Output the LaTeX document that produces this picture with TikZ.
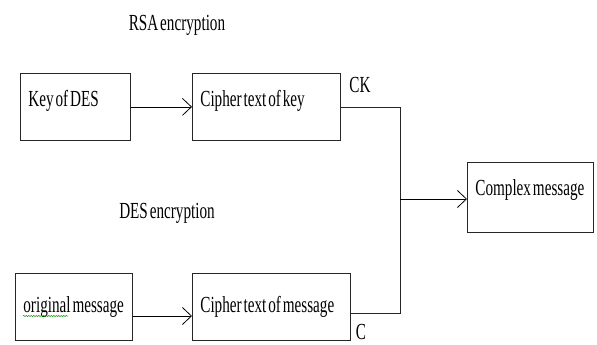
\documentclass[tikz,border=0pt]{standalone}
\usepackage{fontspec}
\setmainfont{Liberation Serif}[FakeStretch=0.66, WordSpace=0.5]
\usetikzlibrary{arrows.meta,decorations.pathmorphing}

\newcommand{\boxtext}[3][0pt]{\raisebox{#1}[0pt][0pt]{\makebox[#2][l]{#3}}}

\tikzset{
  blk/.style={draw=black!85, line width=0.8pt, anchor=north west,
    inner xsep=8pt, inner ysep=0pt, minimum height=67pt},
  flow/.style={-{Straight Barb[length=9pt,width=17pt]}, line width=0.8pt},
  wire/.style={line width=0.8pt, black!85},
  lab/.style={inner sep=0pt}
}

\begin{document}
\begin{tikzpicture}[x=1pt,y=-1pt,font=\fontsize{23}{26}\selectfont]
  \useasboundingbox (0,0) rectangle (597,345);
  \node[lab] (rsa) at (177,25) {RSA encryption};
  \node[lab] (des) at (167,213) {DES encryption};
  \node[blk] (key) at (20,73) {\boxtext{94pt}{Key of DES}};
  \node[blk] (ck) at (192,73) {\boxtext{132pt}{Cipher text of key}};
  \node[blk] (om) at (15,273) {\boxtext[-6pt]{101pt}{original message}};
  \node[blk] (cm) at (192,273) {\boxtext[-6pt]{142pt}{Cipher text of message}};
  \node[blk, minimum height=70pt] (cx) at (467,162) {\boxtext[2pt]{110pt}{Complex message}};
  \node[lab] (cklab) at (360,85) {CK};
  \node[lab] (clab) at (361,332) {C};
  \coordinate (top) at (400,107);
  \coordinate (mid) at (400,199);
  \coordinate (bot) at (400,313);
  \draw[flow] (key) -- (ck);
  \draw[flow] (om.east |- 0,316) -- (cm.west |- 0,316);
  \draw[wire] (ck.east |- top) -- (top) -- (bot) -- (cm.east |- bot);
  \draw[flow] (mid) -- (cx.west |- mid);
  \draw[green!55!black, line width=0.5pt, decorate,
    decoration={snake, amplitude=0.6pt, segment length=2.5pt}] (23,316) -- (68,316);
\end{tikzpicture}
\end{document}
